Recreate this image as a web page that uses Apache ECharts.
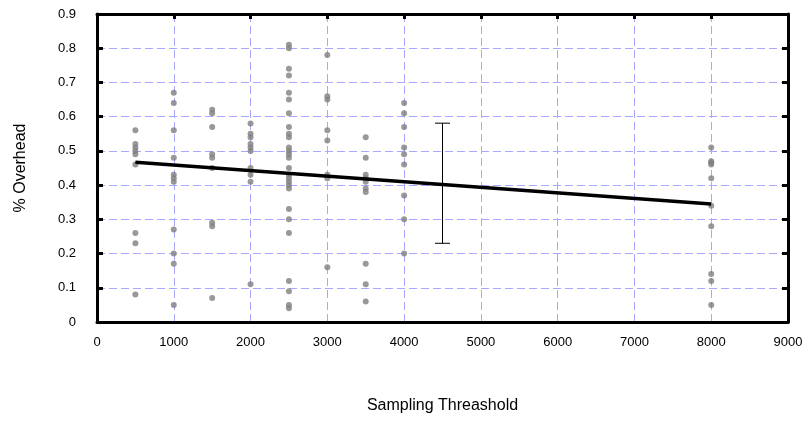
<!DOCTYPE html>
<html>
<head>
<meta charset="utf-8">
<script src="https://cdn.jsdelivr.net/npm/echarts@6/dist/echarts.min.js"></script>
<style>
  html, body { margin: 0; padding: 0; background: #fff; }
  #chart { width: 811px; height: 421px; }
</style>
</head>
<body>
<div id="chart"></div>
<script>
// overhead values observed at each sampling threshold
const thresholds = [500, 1000, 1500, 2000, 2500, 3000, 3500, 4000, 8000];
const overheads = [
  [0.56, 0.52, 0.51, 0.50, 0.49, 0.46, 0.26, 0.23, 0.08],
  [0.67, 0.64, 0.56, 0.48, 0.43, 0.42, 0.41, 0.27, 0.20, 0.17, 0.05],
  [0.62, 0.61, 0.57, 0.49, 0.48, 0.45, 0.29, 0.28, 0.07],
  [0.58, 0.55, 0.54, 0.52, 0.51, 0.50, 0.45, 0.43, 0.41, 0.11],
  [0.81, 0.80, 0.74, 0.72, 0.67, 0.65, 0.61, 0.57, 0.55, 0.54, 0.51, 0.50, 0.49, 0.48,
   0.45, 0.43, 0.42, 0.41, 0.40, 0.39, 0.33, 0.30, 0.26, 0.12, 0.09, 0.05, 0.04],
  [0.78, 0.66, 0.65, 0.56, 0.53, 0.43, 0.42, 0.16],
  [0.54, 0.48, 0.43, 0.42, 0.41, 0.39, 0.38, 0.17, 0.11, 0.06],
  [0.64, 0.61, 0.57, 0.51, 0.49, 0.46, 0.37, 0.30, 0.20],
  [0.51, 0.47, 0.465, 0.46, 0.42, 0.34, 0.28, 0.14, 0.12, 0.05]
];

// linear trend endpoints
const trendX = [500, 8000];
const trendY = [0.467, 0.345];

// error bar
const errX = [4500];
const errLow = [0.23];
const errHigh = [0.581];

const points = [];
thresholds.forEach((t, i) => {
  overheads[i].forEach(v => points.push([t, v]));
});

function gridLine() {
  return { show: true, lineStyle: { color: '#a8a8ff', type: [8, 4], width: 1 } };
}
function frameLine() {
  return { show: true, onZero: false, lineStyle: { color: '#000', width: 3 } };
}
function innerTick(len) {
  return { show: true, inside: true, length: len, lineStyle: { color: '#000', width: 3 } };
}
const font = 'Liberation Sans, Arial, sans-serif';

const chart = echarts.init(document.getElementById('chart'));
chart.setOption({
  animation: false,
  backgroundColor: '#fff',
  grid: { left: 97, right: 23, top: 14, bottom: 99 },
  xAxis: [{
    type: 'value', min: 0, max: 9000, interval: 1000, position: 'bottom',
    name: 'Sampling Threashold', nameLocation: 'middle', nameGap: 76,
    nameTextStyle: { color: '#000', fontSize: 16, fontFamily: font },
    axisLine: frameLine(),
    axisTick: { show: false },
    axisLabel: { margin: 14, color: '#000', fontSize: 13, fontFamily: font, formatter: v => String(v) },
    splitLine: gridLine()
  }, {
    type: 'value', min: 0, max: 9000, interval: 1000, position: 'top',
    axisLine: frameLine(),
    axisTick: innerTick(5),
    axisLabel: { show: false },
    splitLine: { show: false }
  }],
  yAxis: [{
    type: 'value', min: 0, max: 0.9, interval: 0.1, position: 'left',
    name: '% Overhead', nameLocation: 'middle', nameGap: 68, nameRotate: 90,
    nameTextStyle: { color: '#000', fontSize: 16, fontFamily: font },
    axisLine: frameLine(),
    axisTick: innerTick(6),
    axisLabel: { margin: 21, color: '#000', fontSize: 13, fontFamily: font, formatter: v => String(+v.toFixed(1)) },
    splitLine: gridLine()
  }, {
    type: 'value', min: 0, max: 0.9, interval: 0.1, position: 'right',
    axisLine: frameLine(),
    axisTick: innerTick(6),
    axisLabel: { show: false },
    splitLine: { show: false }
  }],
  series: [{
    type: 'scatter',
    data: points,
    symbol: 'circle',
    symbolSize: 6,
    itemStyle: { color: '#808080' },
    z: 2
  }, {
    type: 'custom',
    data: errX.map((x, i) => [x, errLow[i], errHigh[i]]),
    renderItem: function (params, api) {
      const lo = api.coord([api.value(0), api.value(1)]);
      const hi = api.coord([api.value(0), api.value(2)]);
      const w = 7.5;
      const style = { stroke: '#000', lineWidth: 1 };
      return {
        type: 'group',
        children: [
          { type: 'line', shape: { x1: hi[0], y1: hi[1], x2: lo[0], y2: lo[1] }, style: style },
          { type: 'line', shape: { x1: hi[0] - w, y1: hi[1], x2: hi[0] + w, y2: hi[1] }, style: style },
          { type: 'line', shape: { x1: lo[0] - w, y1: lo[1], x2: lo[0] + w, y2: lo[1] }, style: style }
        ]
      };
    },
    z: 3
  }, {
    type: 'line',
    data: trendX.map((x, i) => [x, trendY[i]]),
    symbol: 'none',
    lineStyle: { color: '#000', width: 3.5 },
    z: 4
  }]
});
</script>
</body>
</html>
